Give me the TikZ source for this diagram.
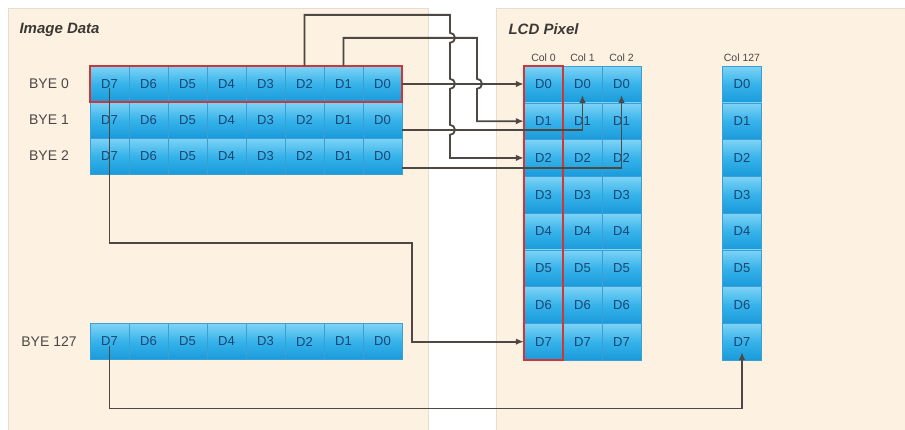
\documentclass[tikz,border=0pt]{standalone}
\usepackage{fontspec}
\setmainfont{Liberation Sans}
\usepackage{tikz}
\usetikzlibrary{arrows.meta,positioning,fit}
\definecolor{Cream}{HTML}{FDF1E1}
\definecolor{CreamEdge}{HTML}{E4DDD3}
\definecolor{CellTop}{HTML}{7FD3F6}
\definecolor{CellMid}{HTML}{36B3EA}
\definecolor{CellBot}{HTML}{1A9ADB}
\definecolor{CellEdge}{HTML}{3A9FD4}
\definecolor{CellText}{HTML}{1A4572}
\definecolor{Ink}{HTML}{4A4744}
\definecolor{Wire}{HTML}{4D4843}
\definecolor{Hilite}{HTML}{D13636}
\tikzset{
  panel/.style={draw=CreamEdge,fill=Cream,line width=.8pt},
  cell/.style={draw=CellEdge,line width=.3pt,top color=CellTop,bottom color=CellBot,middle color=CellMid,minimum width=39pt,minimum height=36pt,inner sep=0pt,text=CellText,font=\fontsize{13}{15}\selectfont},
  lcdcell/.style={cell,minimum height=36.75pt},
  hilite/.style={draw=Hilite,line width=1.8pt,inner sep=0pt},
  bytelabel/.style={text=Ink,font=\fontsize{14}{16}\selectfont},
  colhead/.style={text=Ink,inner sep=1pt,font=\fontsize{10.5}{12}\selectfont},
  paneltitle/.style={text=Ink!80!black,anchor=west,font=\fontsize{15}{18}\selectfont\bfseries\itshape},
  wire/.style={-{Latex[length=8pt,width=6.5pt]},draw=Wire,line width=1.8pt}
}
\begin{document}
\begin{tikzpicture}[x=1pt,y=-1pt]
  \useasboundingbox (0,0) rectangle (905,429);
  \clip (0,0) rectangle (905,429);
  \path[panel] (8,8) rectangle (428,432);
  \path[panel] (496,8) rectangle (910,432);
  \node[paneltitle] (imgtitle) at (16,30) {Image Data};
  \node[paneltitle] (lcdtitle) at (505,29) {LCD Pixel};

  \foreach \row/\y in {0/84,1/120,2/156,127/341.5}{
    \node[bytelabel] (lab\row) at (49,\y) {BYE \row};
    \foreach \i in {0,...,7}{
      \pgfmathtruncatemacro{\d}{7-\i}
      \node[cell] (b\row d\d) at (109.5+39*\i,\y) {D\d};
    }
  }

  \foreach \col/\x in {0/543.5,1/582.5,2/621.5,127/742}{
    \foreach \d in {0,...,7}{
      \node[lcdcell] (c\col d\d) at (\x,84.4+36.75*\d) {D\d};
    }
    \node[colhead,above=3pt of c\col d0] (head\col) {Col \col};
  }

  \node[hilite,fit=(b0d7)(b0d0)] (rowbox) {};
  \node[hilite,fit=(c0d0)(c0d7)] (colbox) {};

  \draw[wire] (b0d2.north) -- ++(0,-51) -- ++(145.5,0) -- ++(0,18)
    arc[start angle=-90,end angle=90,radius=5] -- ++(0,36)
    arc[start angle=-90,end angle=90,radius=5] -- ++(0,36)
    arc[start angle=-90,end angle=90,radius=5] |- (c0d2.west);
  \draw[wire] (b0d1.north) -- ++(0,-28) -- ++(133.5,0) -- ++(0,41)
    arc[start angle=-90,end angle=90,radius=5] |- (c0d1.west);
  \draw[wire] (b0d0.east) -- (b0d0.east -| c0d0.west);
  \draw[wire] ([yshift=-10pt]b1d0.east) -| ([yshift=8pt]c1d0.south);
  \draw[wire] ([yshift=-12pt]b2d0.east) -| ([yshift=8pt]c2d0.south);
  \draw[wire] ([yshift=-4pt]b0d7.center) -- ++(0,155) -| ([xshift=-112pt]c0d7.west) -- (c0d7.west);
  \draw[wire] ([yshift=-4pt]b127d7.center) -- ++(0,63) -| ([yshift=8pt]c127d7.south);
\end{tikzpicture}
\end{document}
